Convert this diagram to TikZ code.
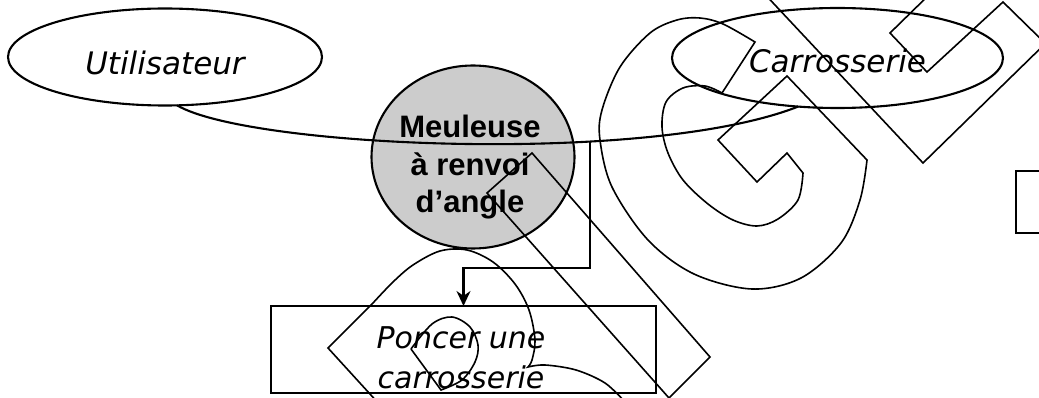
\documentclass[tikz,border=0pt]{standalone}
\usepackage{fontspec}
\newfontfamily\handfont{DejaVu Sans}
\newfontfamily\labelfont{Liberation Sans}
\usetikzlibrary{arrows.meta,shapes.geometric}
\begin{document}
\begin{tikzpicture}[x=1pt,y=-1pt,
  every node/.style={inner sep=0pt,outer sep=0pt},
  ell/.style={draw,ellipse,line width=2.1pt},
  hand/.style={font=\handfont\itshape\fontsize{31}{37}\selectfont},
  handbox/.style={font=\handfont\itshape\fontsize{30}{40}\selectfont},
  boldtxt/.style={font=\labelfont\bfseries\fontsize{31}{37.5}\selectfont},
  conn/.style={line width=2.1pt},
  wm/.style={line width=1.6pt,line join=miter}]
\useasboundingbox (0,0) rectangle (1039,398);
% element ellipses
\node[ell,minimum width=314pt,minimum height=97pt,text height=40pt,text depth=4pt,hand] (u) at (165,57) {Utilisateur};
\node[ell,minimum width=331pt,minimum height=100pt,text height=34pt,text depth=4pt,hand] (c) at (837.5,58) {Carrosserie};
\node[ell,fill=black!20,minimum width=203pt,minimum height=183pt] (m) at (473,157) {};
% horn curve
\draw[conn] (u.-76) .. controls (250,148) and (650,165) .. (c.-129) coordinate[pos=0.67] (j);
\node[boldtxt,align=center,anchor=base] (mt) at (470,213) {Meuleuse\\à renvoi\\d’angle};
% function box
\node[draw,line width=2.1pt,minimum width=385pt,minimum height=87pt] (p) at (463.5,349.5) {};
\node[handbox,align=center,anchor=base] (pt) at (461,388) {Poncer une\\carrosserie};
\draw[conn,-{Stealth[length=15pt,width=14pt]}] (j) |- ([yshift=38pt]p.north) -- (p.north);
% partial box at right edge
\node[draw,line width=2.1pt,minimum width=40pt,minimum height=62pt,anchor=north west] (r) at (1016,171) {};
% watermark outlines
\begin{scope}
\clip (0,0) rectangle (1039,398);
\draw[wm] (532,153) -- (710,357) -- (669,398) -- (487,193) -- cycle;
\draw[wm] plot[smooth,tension=0.55] coordinates {(755,42) (723,24) (700,18) (677,20) (650,33) (620,67) (602,110) (600,140) (612,187) (648,240) (694,274) (752,289) (801,278) (841,243) (860,200) (867,160)}
  -- (787,76) -- (718,140) -- (757,182) -- (787,153) -- (803,173)
  -- plot[smooth,tension=0.55] coordinates {(803,173) (798,200) (778,219) (757,226) (733,220) (708,204) (683,180) (668,153) (662,127) (666,102) (683,88) (705,86) (722,93)}
  -- cycle;
\draw[wm] (760,-11) -- (923,163) -- (1050,39);
\draw[wm] (934,-10) -- (890,33) -- (927,72) -- (1003,2) -- (1050,48);
\draw[wm] (380,405) -- (328,348) -- (373,303)
  -- plot[smooth,tension=0.55] coordinates {(373,303) (393,282) (413,265) (440,251) (467,250) (493,262) (515,284) (529,310) (535,340) (532,360) (528,367)}
  -- plot[smooth,tension=0.55] coordinates {(528,367) (545,365) (576,370) (605,383) (625,402)};
\draw[wm] (411,349) -- (441,390)
  -- plot[smooth,tension=0.55] coordinates {(441,390) (462,380) (475,362) (478,345) (470,327) (452,317) (432,324) (411,349)};
\end{scope}
\end{tikzpicture}
\end{document}
